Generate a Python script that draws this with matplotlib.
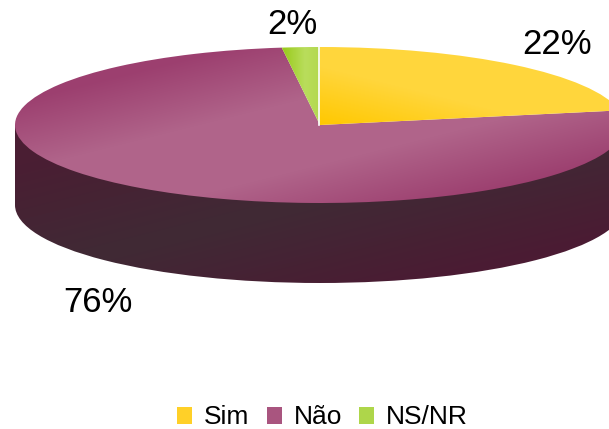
import numpy as np
import matplotlib
matplotlib.use("Agg")
import matplotlib.pyplot as plt
from matplotlib.colors import to_rgb
from matplotlib.patches import Patch, Rectangle, Wedge

categories = ["Sim", "Não", "NS/NR"]
values = [22, 76, 2]
value_labels = ["22%", "76%", "2%"]

W, H = 609, 429
CX, CY, RX, RY, DEPTH = 320, 125, 305, 78, 80
plt.rcParams["font.family"] = ["Liberation Sans", "DejaVu Sans"]

fig = plt.figure(figsize=(W / 100, H / 100), dpi=100)
ax = fig.add_axes([0, 0, 1, 1])
wedges, _ = ax.pie(values, startangle=90, counterclock=False, radius=1,
                   center=(0, 0), frame=True)
depth = DEPTH / RY
extent = (-CX / RX, (W - CX) / RX, (CY - H) / RY, CY / RY)

px, py = np.meshgrid(np.arange(W) + .5, np.arange(H) + .5)


def gradient(s, stops, colors):
    c = np.array([to_rgb(k) for k in colors])
    return np.dstack([np.interp(s, stops, c[:, i]) for i in range(3)])


def paint(img, patch, z):
    patch.set_facecolor("none")
    patch.set_edgecolor("none")
    patch.set_zorder(z)
    im = ax.imshow(img, extent=extent, origin="upper", aspect="auto",
                   interpolation="bilinear", zorder=z)
    im.set_clip_path(patch)


s = py + .25 * (px - CX)
side_img = gradient(s, [90, 200, 310], ["#4a1e33", "#402a35", "#4b1b33"])
mar_img = gradient(s, [25, 95, 165, 235], ["#9c3f6f", "#b0648a", "#b0648a", "#9c3f6f"])
yel_s = (px - CX) * .3 + (CY - py) * 1.2
yel_img = gradient(yel_s, [0, 70], ["#ffc800", "#ffd63c"])
grn_img = gradient(px, [284, 305, 319], ["#9acb1e", "#b9dd5c", "#b4d94f"])

side_bottom = Wedge((0, -depth), 1, 180, 360)
side_body = Rectangle((-1, -depth), 2, depth)
ax.add_patch(side_bottom)
ax.add_patch(side_body)
paint(side_img, side_bottom, 1)
paint(side_img, side_body, 1)

paint(yel_img, wedges[0], 3)
paint(mar_img, wedges[1], 2)
paint(grn_img, wedges[2], 3)
ax.axvline(-1 / RX, ymin=(H - CY) / H, ymax=(H - 47) / H, color="white", lw=1.2, zorder=4)

ax.set_xlim(extent[0], extent[1])
ax.set_ylim(extent[2], extent[3])
ax.set_aspect("auto")
ax.axis("off")

for lab, (x, y) in zip(value_labels, [(557, 44), (98, 303), (292, 25)]):
    fig.text(x / W, 1 - y / H, lab, fontsize=25, ha="center", va="center", color="black")

handles = [Patch(facecolor=c, label=l) for c, l in zip(["#ffd028", "#a9557f", "#aed64a"], categories)]
fig.legend(handles=handles, loc="center", bbox_to_anchor=(322.5 / W, 1 - 417.5 / H), ncol=3,
           frameon=False, fontsize=19, handlelength=.57, handleheight=.63,
           handletextpad=.45, columnspacing=.65, borderpad=0, borderaxespad=0)
fig.savefig("out.png", dpi=100)
